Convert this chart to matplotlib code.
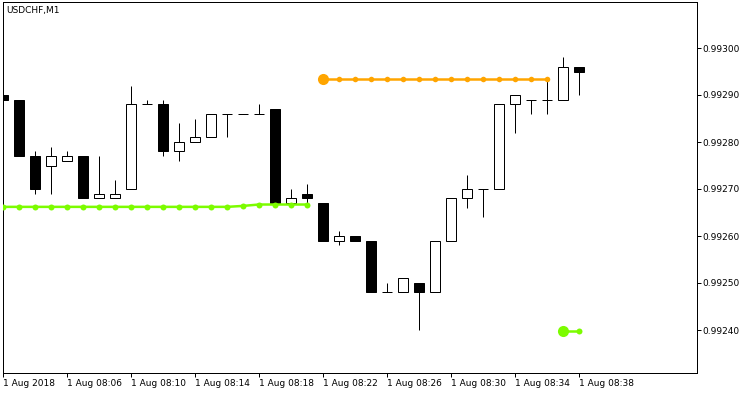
"""USDCHF M1 candlestick chart with indicator levels."""

import matplotlib

matplotlib.use("Agg")
import matplotlib.pyplot as plt
import numpy as np

# --- data --------------------------------------------------------------------
times = [f"08:{m:02d}" for m in range(2, 39)]  # one bar per minute, 08:02 .. 08:38

opens = [0.99290, 0.99289, 0.99277, 0.99275, 0.99276, 0.99277, 0.99268, 0.99268,
         0.99270, 0.99288, 0.99288, 0.99278, 0.99280, 0.99281, 0.99286, 0.99286,
         0.99286, 0.99287, 0.99267, 0.99269, 0.99267, 0.99259, 0.99260, 0.99259,
         0.99248, 0.99248, 0.99250, 0.99248, 0.99259, 0.99268, 0.99270, 0.99270,
         0.99288, 0.99289, 0.99289, 0.99289, 0.99296]
highs = [0.99290, 0.99289, 0.99278, 0.99279, 0.99278, 0.99277, 0.99277, 0.99272,
         0.99292, 0.99289, 0.99289, 0.99284, 0.99285, 0.99286, 0.99286, 0.99286,
         0.99288, 0.99287, 0.99270, 0.99271, 0.99267, 0.99261, 0.99260, 0.99259,
         0.99250, 0.99251, 0.99250, 0.99259, 0.99268, 0.99273, 0.99270, 0.99288,
         0.99290, 0.99289, 0.99293, 0.99298, 0.99296]
lows = [0.99289, 0.99277, 0.99269, 0.99269, 0.99276, 0.99268, 0.99268, 0.99268,
        0.99270, 0.99288, 0.99277, 0.99276, 0.99280, 0.99281, 0.99281, 0.99286,
        0.99286, 0.99267, 0.99267, 0.99267, 0.99259, 0.99258, 0.99259, 0.99248,
        0.99248, 0.99248, 0.99240, 0.99248, 0.99259, 0.99266, 0.99264, 0.99270,
        0.99282, 0.99286, 0.99286, 0.99289, 0.99290]
closes = [0.99289, 0.99277, 0.99270, 0.99277, 0.99277, 0.99268, 0.99269, 0.99269,
          0.99288, 0.99288, 0.99278, 0.99280, 0.99281, 0.99286, 0.99286, 0.99286,
          0.99286, 0.99267, 0.99268, 0.99268, 0.99259, 0.99260, 0.99259, 0.99248,
          0.99248, 0.99251, 0.99248, 0.99259, 0.99268, 0.99270, 0.99270, 0.99288,
          0.99290, 0.99289, 0.99289, 0.99296, 0.99295]

# green support level (bars 08:02 .. 08:21)
green_start = 0
green_level = [0.992662] * 15 + [0.992664] + [0.992667] * 4
# orange resistance level (bars 08:22 .. 08:36)
orange_start = 20
orange_level = [0.992934] * 15
# short green level at the right (bars 08:37 .. 08:38)
green2_start = 35
green2_level = [0.992398, 0.992398]

yticks = [0.99240, 0.99250, 0.99260, 0.99270, 0.99280, 0.99290, 0.99300]
xtick_idx = list(range(0, 37, 4))
xtick_labels = ["1 Aug 2018"] + [f"1 Aug {times[i]}" for i in xtick_idx[1:]]

# --- figure ------------------------------------------------------------------
W, H = 750, 394
fig = plt.figure(figsize=(W / 100, H / 100), dpi=100)
ax = fig.add_axes([2.5 / W, (H - 372.5) / H, 694 / W, 371 / H])

o = np.array(opens)
c = np.array(closes)
hi = np.array(highs)
lo = np.array(lows)
x = np.arange(len(o))
px = 0.72  # one pixel in points

ax.vlines(x, lo, hi, color="black", linewidth=px, zorder=2)

up = c > o
down = c < o
flat = c == o
body_w = 0.68
ax.bar(x[up], (c - o)[up], bottom=o[up], width=body_w, facecolor="white",
       edgecolor="black", linewidth=px, zorder=3)
ax.bar(x[down], (o - c)[down], bottom=c[down], width=body_w, facecolor="black",
       edgecolor="black", linewidth=px, zorder=3)
ax.hlines(o[flat], x[flat] - body_w / 2, x[flat] + body_w / 2, color="black",
          linewidth=px, zorder=3)

green = "#7CFC00"
orange = "#FFA500"

gx = np.arange(green_start, green_start + len(green_level))
ax.plot(gx, green_level, color=green, linewidth=1.8, marker="o", markersize=4.3,
        markeredgewidth=0, zorder=4)

ox = np.arange(orange_start, orange_start + len(orange_level))
ax.plot(ox, orange_level, color=orange, linewidth=1.8, marker="o", markersize=4.0,
        markeredgewidth=0, zorder=4)
ax.plot(ox[:1], orange_level[:1], color=orange, marker="o", markersize=8,
        markeredgewidth=0, zorder=5)

g2x = np.arange(green2_start, green2_start + len(green2_level))
ax.plot(g2x, green2_level, color=green, linewidth=1.8, marker="o", markersize=4.3,
        markeredgewidth=0, zorder=4)
ax.plot(g2x[:1], green2_level[:1], color=green, marker="o", markersize=8,
        markeredgewidth=0, zorder=5)

ax.set_xlim(-0.5 / 16, 694 / 16 - 0.5 / 16)
ax.set_ylim(0.99300 - 324.5 / 470000, 0.99300 + 46.5 / 470000)

ax.set_xticks(xtick_idx)
ax.set_xticklabels(xtick_labels, ha="left")
ax.set_yticks(yticks)
ax.set_yticklabels([f"{v:.5f}" for v in yticks])
ax.yaxis.tick_right()
ax.tick_params(axis="both", direction="out", length=3, width=px, color="black",
               labelsize=6.5, pad=1)
ax.tick_params(axis="x", pad=1.5)

for s in ax.spines.values():
    s.set_linewidth(px)
    s.set_color("black")

ax.text(0.005, 0.988, "USDCHF,M1", transform=ax.transAxes, fontsize=6.5,
        ha="left", va="top")

fig.savefig("out.png", dpi=100, facecolor="white")
